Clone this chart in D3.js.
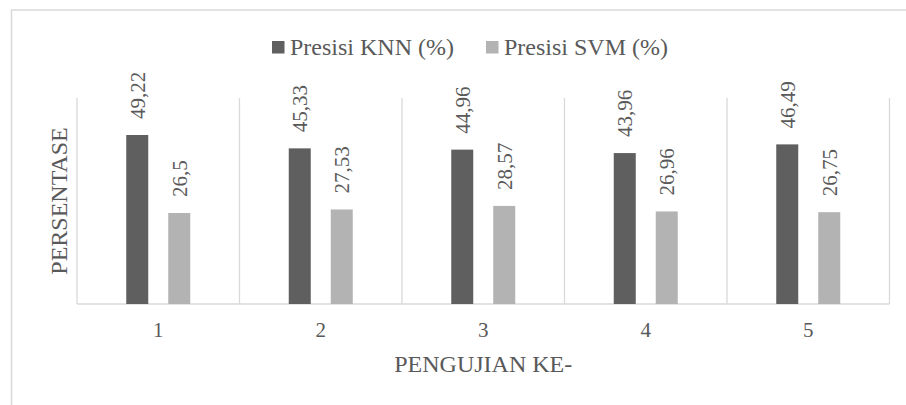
<!DOCTYPE html>
<html>
<head>
<meta charset="utf-8">
<script src="https://cdn.jsdelivr.net/npm/d3@7/dist/d3.min.js"></script>
<style>
  html, body { margin: 0; padding: 0; background: #fff; }
  svg { display: block; }
  text { font-family: "Liberation Serif", "Times New Roman", serif; fill: #595959; }
</style>
</head>
<body>
<div id="chart"></div>
<script>
// Precision per test run for the two classifiers
const categories = ["1", "2", "3", "4", "5"];
const seriesNames = ["Presisi KNN (%)", "Presisi SVM (%)"];
const knnValues = [49.22, 45.33, 44.96, 43.96, 46.49];
const svmValues = [26.5, 27.53, 28.57, 26.96, 26.75];
const yDomain = [0, 60];

const colors = ["#5f5f5f", "#b3b3b3"];
const W = 906, H = 405;
const plot = { left: 77, right: 889.5, top: 98, bottom: 304 };

const svg = d3.select("#chart").append("svg")
  .attr("width", W).attr("height", H);

// chart frame
svg.append("rect")
  .attr("x", 11.5).attr("y", 10)
  .attr("width", 920).attr("height", 420)
  .attr("fill", "#fff").attr("stroke", "#d9d9d9").attr("stroke-width", 1.5);

const x = d3.scaleBand().domain(categories)
  .range([plot.left, plot.right]).paddingInner(0).paddingOuter(0);
const y = d3.scaleLinear().domain(yDomain).range([plot.bottom, plot.top]);
// two bars per group, 22px wide with a 20px gap, centred in the band
const inner = d3.scaleBand().domain(seriesNames)
  .range([-32, 32]).paddingInner(20 / 42).paddingOuter(0);

// vertical separators between categories
const bounds = categories.map(c => x(c)).concat([plot.right]);
svg.append("g").selectAll("line").data(bounds).join("line")
  .attr("x1", d => d).attr("x2", d => d)
  .attr("y1", plot.top).attr("y2", plot.bottom)
  .attr("stroke", "#d9d9d9").attr("stroke-width", 1.3);

// baseline
svg.append("line")
  .attr("x1", plot.left).attr("x2", plot.right)
  .attr("y1", plot.bottom).attr("y2", plot.bottom)
  .attr("stroke", "#d9d9d9").attr("stroke-width", 1.5);

const series = [knnValues, svmValues];
series.forEach((vals, si) => {
  const name = seriesNames[si];
  const rows = categories.map((c, i) => ({ c, v: vals[i] }));
  const g = svg.append("g");
  g.selectAll("rect").data(rows).join("rect")
    .attr("x", d => x(d.c) + x.bandwidth() / 2 + inner(name))
    .attr("y", d => y(d.v))
    .attr("width", inner.bandwidth())
    .attr("height", d => y(0) - y(d.v))
    .attr("fill", colors[si]);
  g.selectAll("text").data(rows).join("text")
    .attr("transform", d => {
      const cx = x(d.c) + x.bandwidth() / 2 + inner(name) + inner.bandwidth() / 2;
      return `translate(${cx},${y(d.v) - 16}) rotate(-90)`;
    })
    .attr("dy", "0.35em")
    .attr("text-anchor", "start")
    .attr("font-size", 21)
    .text(d => String(d.v).replace(".", ","));
});

// category axis
const xAxis = svg.append("g")
  .attr("transform", `translate(0,${plot.bottom})`)
  .call(d3.axisBottom(x).tickSize(0).tickPadding(0));
xAxis.select(".domain").remove();
xAxis.selectAll("text")
  .attr("y", 32.5).attr("dy", 0)
  .attr("font-size", 21)
  .style("font-family", "'Liberation Serif', 'Times New Roman', serif")
  .attr("fill", "#595959");

// axis titles
svg.append("text")
  .attr("x", (plot.left + plot.right) / 2).attr("y", 371.5)
  .attr("text-anchor", "middle").attr("font-size", 24)
  .text("PENGUJIAN KE-");
svg.append("text")
  .attr("transform", `translate(67,${(plot.top + plot.bottom) / 2}) rotate(-90)`)
  .attr("text-anchor", "middle").attr("font-size", 24)
  .text("PERSENTASE");

// legend
const legendItems = [
  { name: seriesNames[0], color: colors[0], x: 272 },
  { name: seriesNames[1], color: colors[1], x: 486 }
];
const lg = svg.append("g");
legendItems.forEach(it => {
  lg.append("rect").attr("x", it.x).attr("y", 41)
    .attr("width", 12.5).attr("height", 12.5).attr("fill", it.color);
  lg.append("text").attr("x", it.x + 18).attr("y", 55)
    .attr("font-size", 24).text(it.name);
});
</script>
</body>
</html>
